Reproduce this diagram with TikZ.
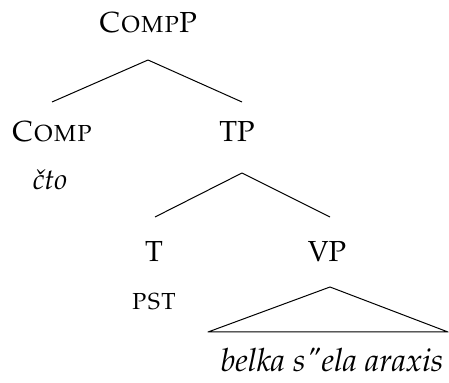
\documentclass[tikz,border=0pt]{standalone}
\usepackage[T1]{fontenc}
\usepackage{mathpazo}
\begin{document}
\begin{tikzpicture}[x=0.5pt,y=-0.5pt,
  lbl/.style={anchor=base,inner sep=0pt,font=\fontsize{14.5}{17}\selectfont},
  edge/.style={line width=0.5pt,line join=round}]
\useasboundingbox (0,0) rectangle (449,383);
% labels
\node[lbl] (cp) at (148,33) {\textsc{Comp}P};
\node[lbl] (comp) at (52,142) {\textsc{Comp}};
\node[lbl] (tp) at (237,142) {TP};
\node[lbl] (cto) at (50,190) {\textit{\v{c}to}};
\node[lbl] (t) at (154,262) {T};
\node[lbl] (vp) at (327,262) {VP};
\node[lbl] (pst) at (154,310) {\textsc{pst}};
\node[lbl,font=\fontsize{16}{19}\selectfont] (words) at (332,372) {\textit{belka s\textquotedbl ela araxis}};
% branch points
\coordinate (cp-d) at (148,60);
\coordinate (comp-u) at (52,102);
\coordinate (tp-u) at (242,102);
\coordinate (tp-d) at (242,173);
\coordinate (t-u) at (155,217);
\coordinate (vp-u) at (330,217);
\coordinate (vp-d) at (330,287);
\coordinate (tri-l) at (208,332);
\coordinate (tri-r) at (448,332);
% edges
\draw[edge] (comp-u) -- (cp-d) -- (tp-u);
\draw[edge] (t-u) -- (tp-d) -- (vp-u);
\draw[edge] (tri-l) -- (vp-d) -- (tri-r) -- cycle;
\end{tikzpicture}
\end{document}
